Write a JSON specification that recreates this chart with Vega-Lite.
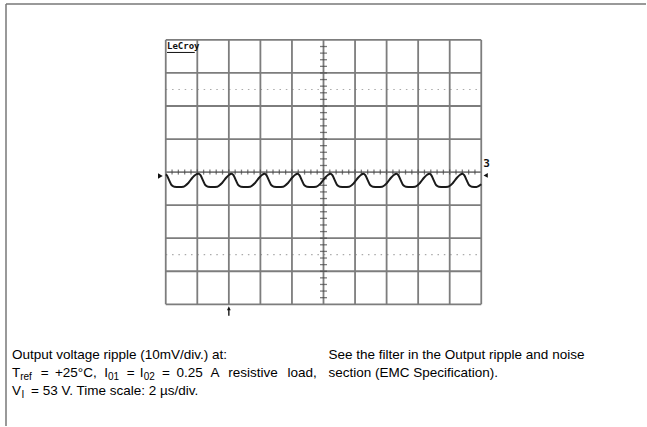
{
  "$schema": "https://vega.github.io/schema/vega-lite/v6.json",
  "width": 647,
  "height": 427,
  "padding": 0,
  "autosize": {"type": "fit", "contains": "padding"},
  "background": "white",
  "config": {"view": {"stroke": null}, "axis": {"disable": true}},
  "data": {"values": [{"note": "annotation"}]},
  "datasets": {
    "trace": [
      {"t": 0.0, "v": -0.07}, {"t": 0.03, "v": -0.09}, {"t": 0.11, "v": -0.25}, {"t": 0.19, "v": -0.40}, {"t": 0.27, "v": -0.44}, {"t": 0.42, "v": -0.45}, {"t": 0.565, "v": -0.44}, {"t": 0.715, "v": -0.33}, {"t": 0.845, "v": -0.17}, {"t": 0.945, "v": -0.08},
      {"t": 1.04, "v": -0.05}, {"t": 1.10, "v": -0.09}, {"t": 1.18, "v": -0.25}, {"t": 1.26, "v": -0.40}, {"t": 1.34, "v": -0.44}, {"t": 1.49, "v": -0.45}, {"t": 1.635, "v": -0.44}, {"t": 1.785, "v": -0.33}, {"t": 1.915, "v": -0.17}, {"t": 2.015, "v": -0.08},
      {"t": 2.085, "v": -0.05}, {"t": 2.145, "v": -0.09}, {"t": 2.225, "v": -0.25}, {"t": 2.305, "v": -0.40}, {"t": 2.385, "v": -0.44}, {"t": 2.535, "v": -0.45}, {"t": 2.68, "v": -0.44}, {"t": 2.83, "v": -0.33}, {"t": 2.96, "v": -0.17}, {"t": 3.06, "v": -0.08},
      {"t": 3.13, "v": -0.05}, {"t": 3.19, "v": -0.09}, {"t": 3.27, "v": -0.25}, {"t": 3.35, "v": -0.40}, {"t": 3.43, "v": -0.44}, {"t": 3.58, "v": -0.45}, {"t": 3.725, "v": -0.44}, {"t": 3.875, "v": -0.33}, {"t": 4.005, "v": -0.17}, {"t": 4.105, "v": -0.08},
      {"t": 4.175, "v": -0.05}, {"t": 4.235, "v": -0.09}, {"t": 4.315, "v": -0.25}, {"t": 4.395, "v": -0.40}, {"t": 4.475, "v": -0.44}, {"t": 4.625, "v": -0.45}, {"t": 4.77, "v": -0.44}, {"t": 4.92, "v": -0.33}, {"t": 5.05, "v": -0.17}, {"t": 5.15, "v": -0.08},
      {"t": 5.22, "v": -0.05}, {"t": 5.28, "v": -0.09}, {"t": 5.36, "v": -0.25}, {"t": 5.44, "v": -0.40}, {"t": 5.52, "v": -0.44}, {"t": 5.67, "v": -0.45}, {"t": 5.815, "v": -0.44}, {"t": 5.965, "v": -0.33}, {"t": 6.095, "v": -0.17}, {"t": 6.195, "v": -0.08},
      {"t": 6.265, "v": -0.05}, {"t": 6.325, "v": -0.09}, {"t": 6.405, "v": -0.25}, {"t": 6.485, "v": -0.40}, {"t": 6.565, "v": -0.44}, {"t": 6.715, "v": -0.45}, {"t": 6.86, "v": -0.44}, {"t": 7.01, "v": -0.33}, {"t": 7.14, "v": -0.17}, {"t": 7.24, "v": -0.08},
      {"t": 7.31, "v": -0.05}, {"t": 7.37, "v": -0.09}, {"t": 7.45, "v": -0.25}, {"t": 7.53, "v": -0.40}, {"t": 7.61, "v": -0.44}, {"t": 7.76, "v": -0.45}, {"t": 7.905, "v": -0.44}, {"t": 8.055, "v": -0.33}, {"t": 8.185, "v": -0.17}, {"t": 8.285, "v": -0.08},
      {"t": 8.355, "v": -0.05}, {"t": 8.415, "v": -0.09}, {"t": 8.495, "v": -0.25}, {"t": 8.575, "v": -0.40}, {"t": 8.655, "v": -0.44}, {"t": 8.805, "v": -0.45}, {"t": 8.95, "v": -0.44}, {"t": 9.10, "v": -0.33}, {"t": 9.23, "v": -0.17}, {"t": 9.33, "v": -0.08},
      {"t": 9.40, "v": -0.05}, {"t": 9.46, "v": -0.09}, {"t": 9.54, "v": -0.25}, {"t": 9.62, "v": -0.40}, {"t": 9.70, "v": -0.44}, {"t": 9.85, "v": -0.45}, {"t": 10.0, "v": -0.37}
    ],
    "vgrid": [{"d": 0}, {"d": 1}, {"d": 2}, {"d": 3}, {"d": 4}, {"d": 5}, {"d": 6}, {"d": 7}, {"d": 8}, {"d": 9}, {"d": 10}],
    "hgrid": [{"d": -4}, {"d": -3}, {"d": -2}, {"d": -1}, {"d": 0}, {"d": 1}, {"d": 2}, {"d": 3}, {"d": 4}],
    "dotted": [{"d": 2.5}, {"d": -2.5}],
    "hticks": [
      {"d": 0.2}, {"d": 0.4}, {"d": 0.6}, {"d": 0.8}, {"d": 1.0}, {"d": 1.2}, {"d": 1.4}, {"d": 1.6}, {"d": 1.8}, {"d": 2.0},
      {"d": 2.2}, {"d": 2.4}, {"d": 2.6}, {"d": 2.8}, {"d": 3.0}, {"d": 3.2}, {"d": 3.4}, {"d": 3.6}, {"d": 3.8}, {"d": 4.0},
      {"d": 4.2}, {"d": 4.4}, {"d": 4.6}, {"d": 4.8}, {"d": 5.0}, {"d": 5.2}, {"d": 5.4}, {"d": 5.6}, {"d": 5.8}, {"d": 6.0},
      {"d": 6.2}, {"d": 6.4}, {"d": 6.6}, {"d": 6.8}, {"d": 7.0}, {"d": 7.2}, {"d": 7.4}, {"d": 7.6}, {"d": 7.8}, {"d": 8.0},
      {"d": 8.2}, {"d": 8.4}, {"d": 8.6}, {"d": 8.8}, {"d": 9.0}, {"d": 9.2}, {"d": 9.4}, {"d": 9.6}, {"d": 9.8}
    ],
    "vticks": [
      {"d": -3.8}, {"d": -3.6}, {"d": -3.4}, {"d": -3.2}, {"d": -3.0}, {"d": -2.8}, {"d": -2.6}, {"d": -2.4}, {"d": -2.2}, {"d": -2.0},
      {"d": -1.8}, {"d": -1.6}, {"d": -1.4}, {"d": -1.2}, {"d": -1.0}, {"d": -0.8}, {"d": -0.6}, {"d": -0.4}, {"d": -0.2},
      {"d": 0.2}, {"d": 0.4}, {"d": 0.6}, {"d": 0.8}, {"d": 1.0}, {"d": 1.2}, {"d": 1.4}, {"d": 1.6}, {"d": 1.8}, {"d": 2.0},
      {"d": 2.2}, {"d": 2.4}, {"d": 2.6}, {"d": 2.8}, {"d": 3.0}, {"d": 3.2}, {"d": 3.4}, {"d": 3.6}, {"d": 3.8}
    ]
  },
  "layer": [
    {
      "mark": {"type": "rule", "color": "#777777", "strokeWidth": 1.5},
      "encoding": {
        "x": {"datum": -5.063, "type": "quantitative", "scale": {"domain": [-5.2532, 15.2215], "nice": false, "zero": false}},
        "y": {"datum": 5.087, "type": "quantitative", "scale": {"domain": [-7.683, 5.2075], "nice": false, "zero": false}},
        "x2": {"datum": 15.2215}
      }
    },
    {
      "mark": {"type": "rule", "color": "#777777", "strokeWidth": 1.5},
      "encoding": {
        "x": {"datum": -5.063, "type": "quantitative"},
        "y": {"datum": 5.087, "type": "quantitative"},
        "y2": {"datum": -7.683}
      }
    },
    {
      "data": {"name": "dotted"},
      "mark": {"type": "rule", "color": "#aaaaaa", "strokeWidth": 1.2, "strokeDash": [1.5, 4.82]},
      "encoding": {
        "y": {"field": "d", "type": "quantitative"},
        "x": {"datum": 0, "type": "quantitative"},
        "x2": {"datum": 10}
      }
    },
    {
      "data": {"name": "vgrid"},
      "mark": {"type": "rule", "color": "#7d7d7d", "strokeWidth": 1.8},
      "encoding": {
        "x": {"field": "d", "type": "quantitative"},
        "y": {"datum": -4, "type": "quantitative"},
        "y2": {"datum": 4}
      }
    },
    {
      "data": {"name": "hgrid"},
      "mark": {"type": "rule", "color": "#7d7d7d", "strokeWidth": 1.8},
      "encoding": {
        "y": {"field": "d", "type": "quantitative"},
        "x": {"datum": 0, "type": "quantitative"},
        "x2": {"datum": 10}
      }
    },
    {
      "data": {"name": "hticks"},
      "mark": {"type": "tick", "orient": "vertical", "color": "#444444", "size": 5, "thickness": 1.3},
      "encoding": {
        "x": {"field": "d", "type": "quantitative"},
        "y": {"datum": 0, "type": "quantitative"}
      }
    },
    {
      "data": {"name": "vticks"},
      "mark": {"type": "tick", "orient": "horizontal", "color": "#444444", "size": 7, "thickness": 1.3},
      "encoding": {
        "y": {"field": "d", "type": "quantitative"},
        "x": {"datum": 5, "type": "quantitative"}
      }
    },
    {
      "data": {"name": "trace"},
      "mark": {"type": "line", "color": "#1a1a1a", "strokeWidth": 2, "interpolate": "monotone"},
      "encoding": {
        "x": {"field": "t", "type": "quantitative"},
        "y": {"field": "v", "type": "quantitative"}
      }
    },
    {
      "mark": {"type": "point", "shape": "triangle-right", "filled": true, "color": "#111111", "size": 30, "opacity": 1},
      "encoding": {"x": {"datum": -0.17, "type": "quantitative"}, "y": {"datum": -0.12, "type": "quantitative"}}
    },
    {
      "mark": {"type": "point", "shape": "triangle-left", "filled": true, "color": "#111111", "size": 24, "opacity": 1},
      "encoding": {"x": {"datum": 10.14, "type": "quantitative"}, "y": {"datum": -0.1, "type": "quantitative"}}
    },
    {
      "mark": {"type": "text", "text": "3", "font": "DejaVu Sans Mono", "fontSize": 11, "fontWeight": "bold", "color": "#111111", "align": "center", "baseline": "middle"},
      "encoding": {"x": {"datum": 10.17, "type": "quantitative"}, "y": {"datum": 0.25, "type": "quantitative"}}
    },
    {
      "mark": {"type": "point", "shape": "arrow", "filled": true, "color": "#111111", "size": 90, "opacity": 1},
      "encoding": {"x": {"datum": 2.0, "type": "quantitative"}, "y": {"datum": -4.2, "type": "quantitative"}}
    },
    {
      "mark": {"type": "text", "text": "LeCroy", "font": "DejaVu Sans Mono", "fontSize": 9, "fontWeight": "bold", "color": "#111111", "align": "left", "baseline": "alphabetic"},
      "encoding": {"x": {"datum": 0.04, "type": "quantitative"}, "y": {"datum": 3.72, "type": "quantitative"}}
    },
    {
      "mark": {"type": "rule", "color": "#111111", "strokeWidth": 1},
      "encoding": {"x": {"datum": 0.04, "type": "quantitative"}, "x2": {"datum": 0.92}, "y": {"datum": 3.62, "type": "quantitative"}}
    },
    {
      "mark": {"type": "text", "text": "Output voltage ripple (10mV/div.) at:", "font": "Liberation Sans", "fontSize": 13.5, "color": "#000000", "align": "left", "baseline": "alphabetic"},
      "encoding": {"x": {"datum": -4.8734, "type": "quantitative"}, "y": {"datum": -5.6604, "type": "quantitative"}}
    },
    {
      "mark": {"type": "text", "text": "T", "font": "Liberation Sans", "fontSize": 13.5, "color": "#000000", "align": "left", "baseline": "alphabetic"},
      "encoding": {"x": {"datum": -4.8734, "type": "quantitative"}, "y": {"datum": -6.2038, "type": "quantitative"}}
    },
    {
      "mark": {"type": "text", "text": "ref", "font": "Liberation Sans", "fontSize": 10, "color": "#000000", "align": "left", "baseline": "alphabetic"},
      "encoding": {"x": {"datum": -4.6123, "type": "quantitative"}, "y": {"datum": -6.2943, "type": "quantitative"}}
    },
    {
      "mark": {"type": "text", "text": "=", "font": "Liberation Sans", "fontSize": 13.5, "color": "#000000", "align": "left", "baseline": "alphabetic"},
      "encoding": {"x": {"datum": -3.96, "type": "quantitative"}, "y": {"datum": -6.2038, "type": "quantitative"}}
    },
    {
      "mark": {"type": "text", "text": "+25°C,", "font": "Liberation Sans", "fontSize": 13.5, "color": "#000000", "align": "left", "baseline": "alphabetic"},
      "encoding": {"x": {"datum": -3.5127, "type": "quantitative"}, "y": {"datum": -6.2038, "type": "quantitative"}}
    },
    {
      "mark": {"type": "text", "text": "I", "font": "Liberation Sans", "fontSize": 13.5, "color": "#000000", "align": "left", "baseline": "alphabetic"},
      "encoding": {"x": {"datum": -1.9494, "type": "quantitative"}, "y": {"datum": -6.2038, "type": "quantitative"}}
    },
    {
      "mark": {"type": "text", "text": "01", "font": "Liberation Sans", "fontSize": 10, "color": "#000000", "align": "left", "baseline": "alphabetic"},
      "encoding": {"x": {"datum": -1.8291, "type": "quantitative"}, "y": {"datum": -6.2943, "type": "quantitative"}}
    },
    {
      "mark": {"type": "text", "text": "=", "font": "Liberation Sans", "fontSize": 13.5, "color": "#000000", "align": "left", "baseline": "alphabetic"},
      "encoding": {"x": {"datum": -1.2373, "type": "quantitative"}, "y": {"datum": -6.2038, "type": "quantitative"}}
    },
    {
      "mark": {"type": "text", "text": "I", "font": "Liberation Sans", "fontSize": 13.5, "color": "#000000", "align": "left", "baseline": "alphabetic"},
      "encoding": {"x": {"datum": -0.82, "type": "quantitative"}, "y": {"datum": -6.2038, "type": "quantitative"}}
    },
    {
      "mark": {"type": "text", "text": "02", "font": "Liberation Sans", "fontSize": 10, "color": "#000000", "align": "left", "baseline": "alphabetic"},
      "encoding": {"x": {"datum": -0.70, "type": "quantitative"}, "y": {"datum": -6.2943, "type": "quantitative"}}
    },
    {
      "mark": {"type": "text", "text": "=", "font": "Liberation Sans", "fontSize": 13.5, "color": "#000000", "align": "left", "baseline": "alphabetic"},
      "encoding": {"x": {"datum": -0.12, "type": "quantitative"}, "y": {"datum": -6.2038, "type": "quantitative"}}
    },
    {
      "mark": {"type": "text", "text": "0.25", "font": "Liberation Sans", "fontSize": 13.5, "color": "#000000", "align": "left", "baseline": "alphabetic"},
      "encoding": {"x": {"datum": 0.34, "type": "quantitative"}, "y": {"datum": -6.2038, "type": "quantitative"}}
    },
    {
      "mark": {"type": "text", "text": "A", "font": "Liberation Sans", "fontSize": 13.5, "color": "#000000", "align": "left", "baseline": "alphabetic"},
      "encoding": {"x": {"datum": 1.42, "type": "quantitative"}, "y": {"datum": -6.2038, "type": "quantitative"}}
    },
    {
      "mark": {"type": "text", "text": "resistive", "font": "Liberation Sans", "fontSize": 13.5, "color": "#000000", "align": "left", "baseline": "alphabetic"},
      "encoding": {"x": {"datum": 1.98, "type": "quantitative"}, "y": {"datum": -6.2038, "type": "quantitative"}}
    },
    {
      "mark": {"type": "text", "text": "load,", "font": "Liberation Sans", "fontSize": 13.5, "color": "#000000", "align": "left", "baseline": "alphabetic"},
      "encoding": {"x": {"datum": 3.8608, "type": "quantitative"}, "y": {"datum": -6.2038, "type": "quantitative"}}
    },
    {
      "mark": {"type": "text", "text": "V", "font": "Liberation Sans", "fontSize": 13.5, "color": "#000000", "align": "left", "baseline": "alphabetic"},
      "encoding": {"x": {"datum": -4.8734, "type": "quantitative"}, "y": {"datum": -6.7472, "type": "quantitative"}}
    },
    {
      "mark": {"type": "text", "text": "I", "font": "Liberation Sans", "fontSize": 10, "color": "#000000", "align": "left", "baseline": "alphabetic"},
      "encoding": {"x": {"datum": -4.575, "type": "quantitative"}, "y": {"datum": -6.8377, "type": "quantitative"}}
    },
    {
      "mark": {"type": "text", "text": "= 53 V. Time scale: 2 µs/div.", "font": "Liberation Sans", "fontSize": 13.5, "color": "#000000", "align": "left", "baseline": "alphabetic"},
      "encoding": {"x": {"datum": -4.27, "type": "quantitative"}, "y": {"datum": -6.7472, "type": "quantitative"}}
    },
    {
      "mark": {"type": "text", "text": "See the filter in the Output ripple and noise", "font": "Liberation Sans", "fontSize": 13.5, "color": "#000000", "align": "left", "baseline": "alphabetic"},
      "encoding": {"x": {"datum": 5.1582, "type": "quantitative"}, "y": {"datum": -5.6604, "type": "quantitative"}}
    },
    {
      "mark": {"type": "text", "text": "section (EMC Specification).", "font": "Liberation Sans", "fontSize": 13.5, "color": "#000000", "align": "left", "baseline": "alphabetic"},
      "encoding": {"x": {"datum": 5.1582, "type": "quantitative"}, "y": {"datum": -6.2038, "type": "quantitative"}}
    }
  ]
}
